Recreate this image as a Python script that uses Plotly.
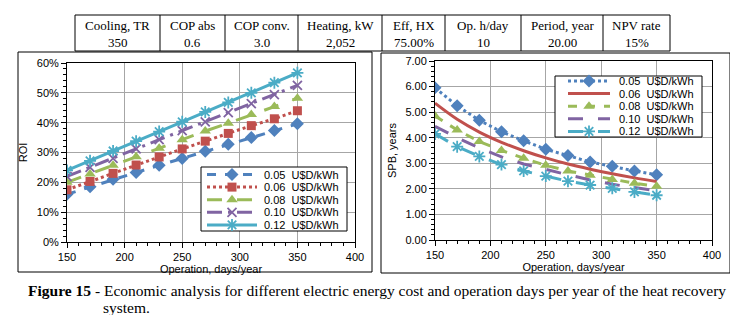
import plotly.graph_objects as go

W, H = 738, 315
days = [150, 170, 190, 210, 230, 250, 270, 290, 310, 330, 350]
cost_labels = ["0.05  U$D/kWh", "0.06  U$D/kWh", "0.08  U$D/kWh", "0.10  U$D/kWh", "0.12  U$D/kWh"]

roi_005 = [16.0, 18.5, 21.0, 23.3, 25.7, 28.0, 30.4, 32.8, 35.0, 37.4, 39.6]
roi_006 = [17.5, 20.3, 23.0, 25.8, 28.5, 31.2, 33.8, 36.4, 39.0, 41.3, 44.0]
roi_008 = [20.0, 22.8, 25.7, 28.6, 31.4, 34.3, 37.2, 39.8, 42.7, 45.4, 48.2]
roi_010 = [22.0, 25.0, 28.0, 31.2, 34.3, 37.3, 40.3, 43.4, 46.4, 49.4, 52.5]
roi_012 = [24.0, 27.2, 30.5, 33.8, 37.0, 40.3, 43.6, 46.8, 50.0, 53.4, 56.7]

spb_005 = [5.95, 5.25, 4.68, 4.23, 3.88, 3.55, 3.30, 3.05, 2.88, 2.70, 2.55]
spb_006 = [5.35, 4.72, 4.22, 3.82, 3.49, 3.21, 2.97, 2.77, 2.59, 2.43, 2.29]
spb_008 = [4.85, 4.30, 3.85, 3.50, 3.20, 2.92, 2.70, 2.53, 2.37, 2.22, 2.10]
spb_010 = [4.45, 4.00, 3.60, 3.25, 2.97, 2.75, 2.55, 2.35, 2.18, 2.05, 1.93]
spb_012 = [4.15, 3.65, 3.27, 2.95, 2.70, 2.50, 2.30, 2.15, 2.02, 1.88, 1.75]

table_headers = ["Cooling, TR", "COP abs", "COP conv.", "Heating, kW", "Eff, HX", "Op. h/day", "Period, year", "NPV rate"]
table_values = ["350", "0.6", "3.0", "2,052", "75.00%", "10", "20.00", "15%"]

BLUE, RED, GREEN, PURPLE, CYAN = "#4F81BD", "#C0504D", "#9BBB59", "#8064A2", "#4BACC6"


def px(x):
    return x / W


def py(y):
    return 1 - y / H


roi_series = [roi_005, roi_006, roi_008, roi_010, roi_012]
roi_styles = [
    dict(color=BLUE, dash="dash", symbol="diamond", size=10, open=False, mode="lines+markers", shape="linear"),
    dict(color=RED, dash="dot", symbol="square", size=9, open=False, mode="lines+markers", shape="linear"),
    dict(color=GREEN, dash="longdash", symbol="triangle-up", size=10, open=False, mode="lines+markers", shape="linear"),
    dict(color=PURPLE, dash="longdashdot", symbol="x-thin-open", size=9, open=True, mode="lines+markers", shape="linear"),
    dict(color=CYAN, dash="solid", symbol="asterisk-open", size=10, open=True, mode="lines+markers", shape="linear"),
]
spb_series = [spb_005, spb_006, spb_008, spb_010, spb_012]
spb_styles = [
    dict(color=BLUE, dash="dot", symbol="diamond", size=10, open=False, mode="lines+markers", shape="linear"),
    dict(color=RED, dash="solid", symbol=None, size=0, open=False, mode="lines", shape="spline"),
    dict(color=GREEN, dash="dash", symbol="triangle-up", size=10, open=False, mode="lines+markers", shape="linear"),
    dict(color=PURPLE, dash="longdash", symbol=None, size=0, open=False, mode="lines", shape="linear"),
    dict(color=CYAN, dash="longdash", symbol="asterisk-open", size=10, open=True, mode="lines+markers", shape="linear"),
]


def marker_of(st):
    if not st["symbol"]:
        return None
    m = dict(symbol=st["symbol"], size=st["size"], color=st["color"])
    if st["open"]:
        m["line"] = dict(color=st["color"], width=1.8)
    return m


fig = go.Figure()

for vals, lab, st in zip(roi_series, cost_labels, roi_styles):
    kw = {}
    m = marker_of(st)
    if m:
        kw["marker"] = m
    fig.add_trace(go.Scatter(
        x=days, y=[v / 100 for v in vals], name=lab, mode=st["mode"],
        line=dict(color=st["color"], dash=st["dash"], width=3, shape=st["shape"]),
        xaxis="x", yaxis="y", showlegend=False, **kw))

for vals, lab, st in zip(spb_series, cost_labels, spb_styles):
    kw = {}
    m = marker_of(st)
    if m:
        kw["marker"] = m
    fig.add_trace(go.Scatter(
        x=days, y=vals, name=lab, mode=st["mode"],
        line=dict(color=st["color"], dash=st["dash"], width=3, shape=st["shape"]),
        xaxis="x2", yaxis="y2", showlegend=False, **kw))

# ---- legends (drawn in a transparent pixel-space overlay subplot on top) ----
legend_specs = [
    dict(styles=roi_styles, box=(193, 159, 339, 223), sample=(199, 249), text_x=254, row0=166.5, step=12.6),
    dict(styles=spb_styles, box=(547, 68, 694, 129), sample=(560, 602), text_x=609, row0=73.0, step=12.6),
]
ann = []
for spec in legend_specs:
    x0, y0, x1, y1 = spec["box"]
    fig.add_trace(go.Scatter(
        x=[x0, x1, x1, x0, x0], y=[y0, y0, y1, y1, y0], mode="lines", fill="toself",
        fillcolor="white", line=dict(color="black", width=1),
        xaxis="x3", yaxis="y3", showlegend=False, hoverinfo="skip"))
    sa, sb = spec["sample"]
    for i, (st, lab) in enumerate(zip(spec["styles"], cost_labels)):
        yy = spec["row0"] + i * spec["step"]
        mid = (sa + sb) / 2
        m = marker_of(st)
        fig.add_trace(go.Scatter(
            x=[sa, mid, sb], y=[yy, yy, yy], mode="lines",
            line=dict(color=st["color"], dash=st["dash"], width=3),
            xaxis="x3", yaxis="y3", showlegend=False, hoverinfo="skip"))
        if m:
            fig.add_trace(go.Scatter(
                x=[mid], y=[yy], mode="markers", marker=m,
                xaxis="x3", yaxis="y3", showlegend=False, hoverinfo="skip"))
        ann.append(dict(x=spec["text_x"], y=yy, xref="x3", yref="y3", text=lab, showarrow=False,
                        font=dict(family="Liberation Sans, Arial", size=11, color="black"),
                        xanchor="left", yanchor="middle"))

axis_font = dict(family="Liberation Sans, Arial", size=11, color="black")
common_x = dict(range=[150, 400], dtick=50, tick0=150, showgrid=True, gridcolor="#A6A6A6", gridwidth=1,
                showline=True, linecolor="black", linewidth=1, mirror=True, zeroline=False,
                ticks="outside", ticklen=5, tickcolor="black", tickfont=axis_font, automargin=False,
                minor=dict(dtick=10, ticks="outside", ticklen=3, tickcolor="black", showgrid=False))

fig.update_layout(
    width=W, height=H, margin=dict(l=0, r=0, t=0, b=0, autoexpand=False),
    paper_bgcolor="white", plot_bgcolor="rgba(0,0,0,0)", showlegend=False,
    font=dict(family="Liberation Sans, Arial", size=11, color="black"),
    xaxis=dict(domain=[px(59), px(347)], anchor="y",
               title=dict(text="Operation, days/year", font=axis_font, standoff=0), **common_x),
    yaxis=dict(domain=[py(234), py(55)], anchor="x", range=[0, 0.6], dtick=0.1, tickformat=".0%",
               showgrid=True, gridcolor="#A6A6A6", showline=True, linecolor="black", linewidth=1,
               mirror=True, zeroline=False, ticks="outside", ticklen=5, tickcolor="black", tickfont=axis_font,
               automargin=False,
               minor=dict(dtick=0.02, ticks="outside", ticklen=3, tickcolor="black", showgrid=False),
               title=dict(text="ROI", font=axis_font, standoff=6)),
    xaxis2=dict(domain=[px(427), px(704)], anchor="y2",
                title=dict(text="Operation, days/year", font=axis_font, standoff=0), **common_x),
    yaxis2=dict(domain=[py(232), py(53)], anchor="x2", range=[0, 7], dtick=1, tickformat=".2f",
                showgrid=True, gridcolor="#A6A6A6", showline=True, linecolor="black", linewidth=1,
                mirror=True, zeroline=False, ticks="outside", ticklen=5, tickcolor="black", tickfont=axis_font,
                automargin=False,
                minor=dict(dtick=0.2, ticks="outside", ticklen=3, tickcolor="black", showgrid=False),
                title=dict(text="SPB, years", font=axis_font, standoff=6)),
    xaxis3=dict(domain=[0, 1], range=[0, W], visible=False, fixedrange=True, automargin=False,
                anchor="y3", showgrid=False, zeroline=False),
    yaxis3=dict(domain=[0, 1], range=[H, 0], visible=False, fixedrange=True, automargin=False,
                anchor="x3", showgrid=False, zeroline=False),
)

shapes = []
# chart frames
shapes.append(dict(type="rect", xref="paper", yref="paper", x0=px(10), x1=px(364), y0=py(264), y1=py(44),
                   line=dict(color="black", width=1), layer="below"))
shapes.append(dict(type="rect", xref="paper", yref="paper", x0=px(373), x1=px(722), y0=py(265), y1=py(45),
                   line=dict(color="black", width=1), layer="below"))
# table
col_edges = [67, 152, 217, 290, 374, 437, 513, 595, 662]
t_top, t_bot = 7, 43
for yy in (t_top, t_bot):
    shapes.append(dict(type="line", xref="paper", yref="paper", x0=px(col_edges[0]), x1=px(col_edges[-1]),
                       y0=py(yy), y1=py(yy), line=dict(color="black", width=1)))
for e in col_edges:
    shapes.append(dict(type="line", xref="paper", yref="paper", x0=px(e), x1=px(e),
                       y0=py(t_top), y1=py(t_bot), line=dict(color="black", width=1)))
fig.update_layout(shapes=shapes)

tfont = dict(family="Liberation Serif, Times New Roman", size=13, color="black")
for i, (h, v) in enumerate(zip(table_headers, table_values)):
    cx = (col_edges[i] + col_edges[i + 1]) / 2
    ann.append(dict(x=px(cx), y=py(17), xref="paper", yref="paper", text=h, showarrow=False,
                    font=tfont, xanchor="center", yanchor="middle"))
    ann.append(dict(x=px(cx), y=py(34), xref="paper", yref="paper", text=v, showarrow=False,
                    font=tfont, xanchor="center", yanchor="middle"))

cfont = dict(family="Liberation Serif, Times New Roman", size=15.5, color="black")
ann.append(dict(x=px(18), y=py(282), xref="paper", yref="paper",
                text="<b>Figure 15</b> - Economic analysis for different electric energy cost and operation days per year of the heat recovery",
                showarrow=False, font=cfont, xanchor="left", yanchor="middle"))
ann.append(dict(x=px(93), y=py(299), xref="paper", yref="paper", text="system.",
                showarrow=False, font=cfont, xanchor="left", yanchor="middle"))
fig.update_layout(annotations=ann)

fig.write_html("out.html")
